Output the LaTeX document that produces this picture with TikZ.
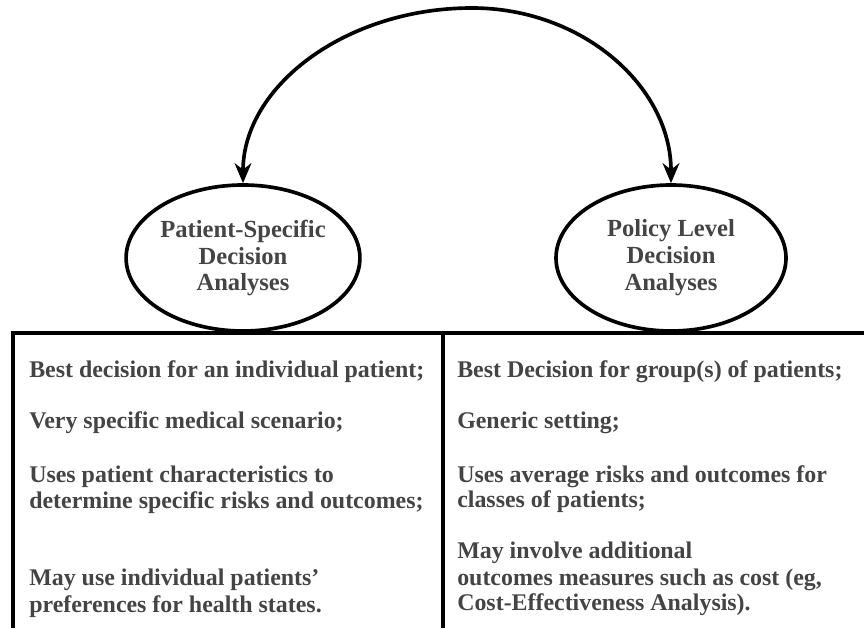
\documentclass[tikz,border=0pt]{standalone}
\usepackage{fontspec}
\setmainfont{Liberation Serif}
\usepackage{xcolor}
\usetikzlibrary{shapes,arrows,arrows.meta,positioning}
\definecolor{txtgray}{HTML}{444444}

\begin{document}
\begin{tikzpicture}[
  kind/.style={draw, ellipse, line width=2.6pt, minimum width=5.75cm, minimum height=3.65cm,
               inner sep=0pt, align=center, text=txtgray,
               font=\fontsize{17.5}{19.2}\selectfont\bfseries},
  item/.style={anchor=base west, inner sep=0pt, text=txtgray,
               font=\fontsize{17}{18.5}\selectfont\bfseries},
  link/.style={-{Stealth[length=0.5cm, width=0.42cm]}, line width=2.6pt},
  frame/.style={line width=2.6pt}
]
\useasboundingbox (0,0) rectangle (21.6,15.7);

% the two kinds of analyses
\node[kind] (PS) at (6.075,9.25) {Patient-Specific\\Decision\\Analyses};
\node[kind] (PL) at (16.775,9.25) {Policy Level\\Decision\\Analyses};

% double arrow over the top
\coordinate (top) at (11.8,15.5);
\draw[link] (top) .. controls (8.64,15.5) and (6.075,13.54) .. (PS.north);
\draw[link] (top) .. controls (14.56,15.5) and (16.775,13.54) .. (PL.north);

% table lines
\draw[frame] (0.325,0) -- (0.325,7.375) -- (21.6,7.375);
\draw[frame] (11.075,0) -- (11.075,7.375);

% left column
\node[item] (L1) at (0.725,6.25) {Best decision for an individual patient;};
\node[item] (L2) at (0.725,5.0) {Very specific medical scenario;};
\node[item] (L3) at (0.725,3.65) {Uses patient characteristics to};
\node[item] (L4) at (0.725,3.0) {determine specific risks and outcomes;};
\node[item] (L5) at (0.725,1.075) {May use individual patients’};
\node[item] (L6) at (0.725,0.4) {preferences for health states.};

% right column
\node[item] (R1) at (11.425,6.25) {Best Decision for group(s) of patients;};
\node[item] (R2) at (11.425,5.0) {Generic setting;};
\node[item] (R3) at (11.425,3.65) {Uses average risks and outcomes for};
\node[item] (R4) at (11.425,3.025) {classes of patients;};
\node[item] (R5) at (11.425,1.75) {May involve additional};
\node[item] (R6) at (11.425,1.075) {outcomes measures such as cost (eg,};
\node[item] (R7) at (11.425,0.45) {Cost-Effectiveness Analysis).};
\end{tikzpicture}
\end{document}
